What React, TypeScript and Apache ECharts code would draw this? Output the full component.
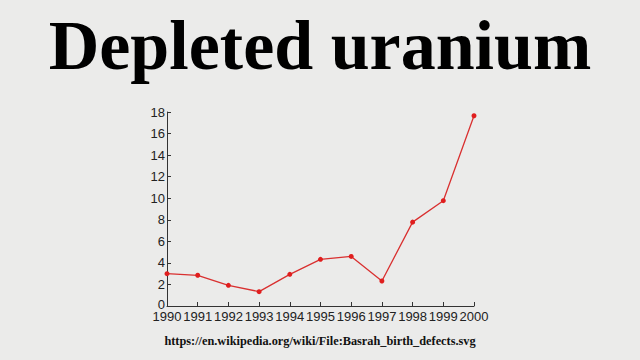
import React, { useEffect, useRef } from "react";
import * as echarts from "echarts";

const years = ["1990", "1991", "1992", "1993", "1994", "1995", "1996", "1997", "1998", "1999", "2000"];
const values = [3.0, 2.85, 1.92, 1.33, 2.94, 4.33, 4.6, 2.32, 7.78, 9.77, 17.65];
const titleText = "Depleted uranium";
const sourceText = "https://en.wikipedia.org/wiki/File:Basrah_birth_defects.svg";

export default function App() {
  const ref = useRef<HTMLDivElement>(null);
  useEffect(() => {
    const chart = echarts.init(ref.current!, null, { renderer: "svg" });
    chart.setOption({
      animation: false,
      backgroundColor: "#ebebea",
      title: [
        {
          text: titleText,
          left: "center",
          top: 5,
          textStyle: { fontFamily: "Liberation Serif", fontWeight: "bold", fontSize: 70, color: "#000" },
        },
        {
          text: sourceText,
          left: "center",
          top: 330,
          textStyle: { fontFamily: "Liberation Serif", fontWeight: "bold", fontSize: 12.3, color: "#111" },
        },
      ],
      grid: { left: 167, right: 166, top: 112, bottom: 54 },
      xAxis: {
        type: "category",
        data: years,
        boundaryGap: false,
        axisLine: { lineStyle: { color: "#333", width: 1 } },
        axisTick: { inside: true, length: 4, interval: 0, lineStyle: { color: "#333" } },
        axisLabel: { interval: 0, fontFamily: "Liberation Sans", fontSize: 13, lineHeight: 11, color: "#222", margin: 5 },
        splitLine: { show: false },
      },
      yAxis: {
        type: "value",
        min: 0,
        max: 18,
        interval: 2,
        axisLine: { show: true, lineStyle: { color: "#333", width: 1 } },
        axisTick: { show: true, inside: true, length: 4, lineStyle: { color: "#333" } },
        axisLabel: {
          fontFamily: "Liberation Sans",
          fontSize: 13,
          lineHeight: 10,
          color: "#222",
          margin: 2,
          formatter: (v: number) => (v === 0 ? "{z|0}" : String(v)),
          rich: {
            z: { fontFamily: "Liberation Sans", fontSize: 13, lineHeight: 10, color: "#222", padding: [0, 0, 4, 0] },
          },
        },
        splitLine: { show: false },
      },
      series: [
        {
          type: "line",
          data: values,
          symbol: "circle",
          symbolSize: 5,
          lineStyle: { color: "#d93030", width: 1.3 },
          itemStyle: { color: "#e01e1e" },
        },
      ],
    });
    return () => chart.dispose();
  }, []);
  return <div ref={ref} style={{ width: 640, height: 360, position: "absolute", left: 0, top: 0 }} />;
}
